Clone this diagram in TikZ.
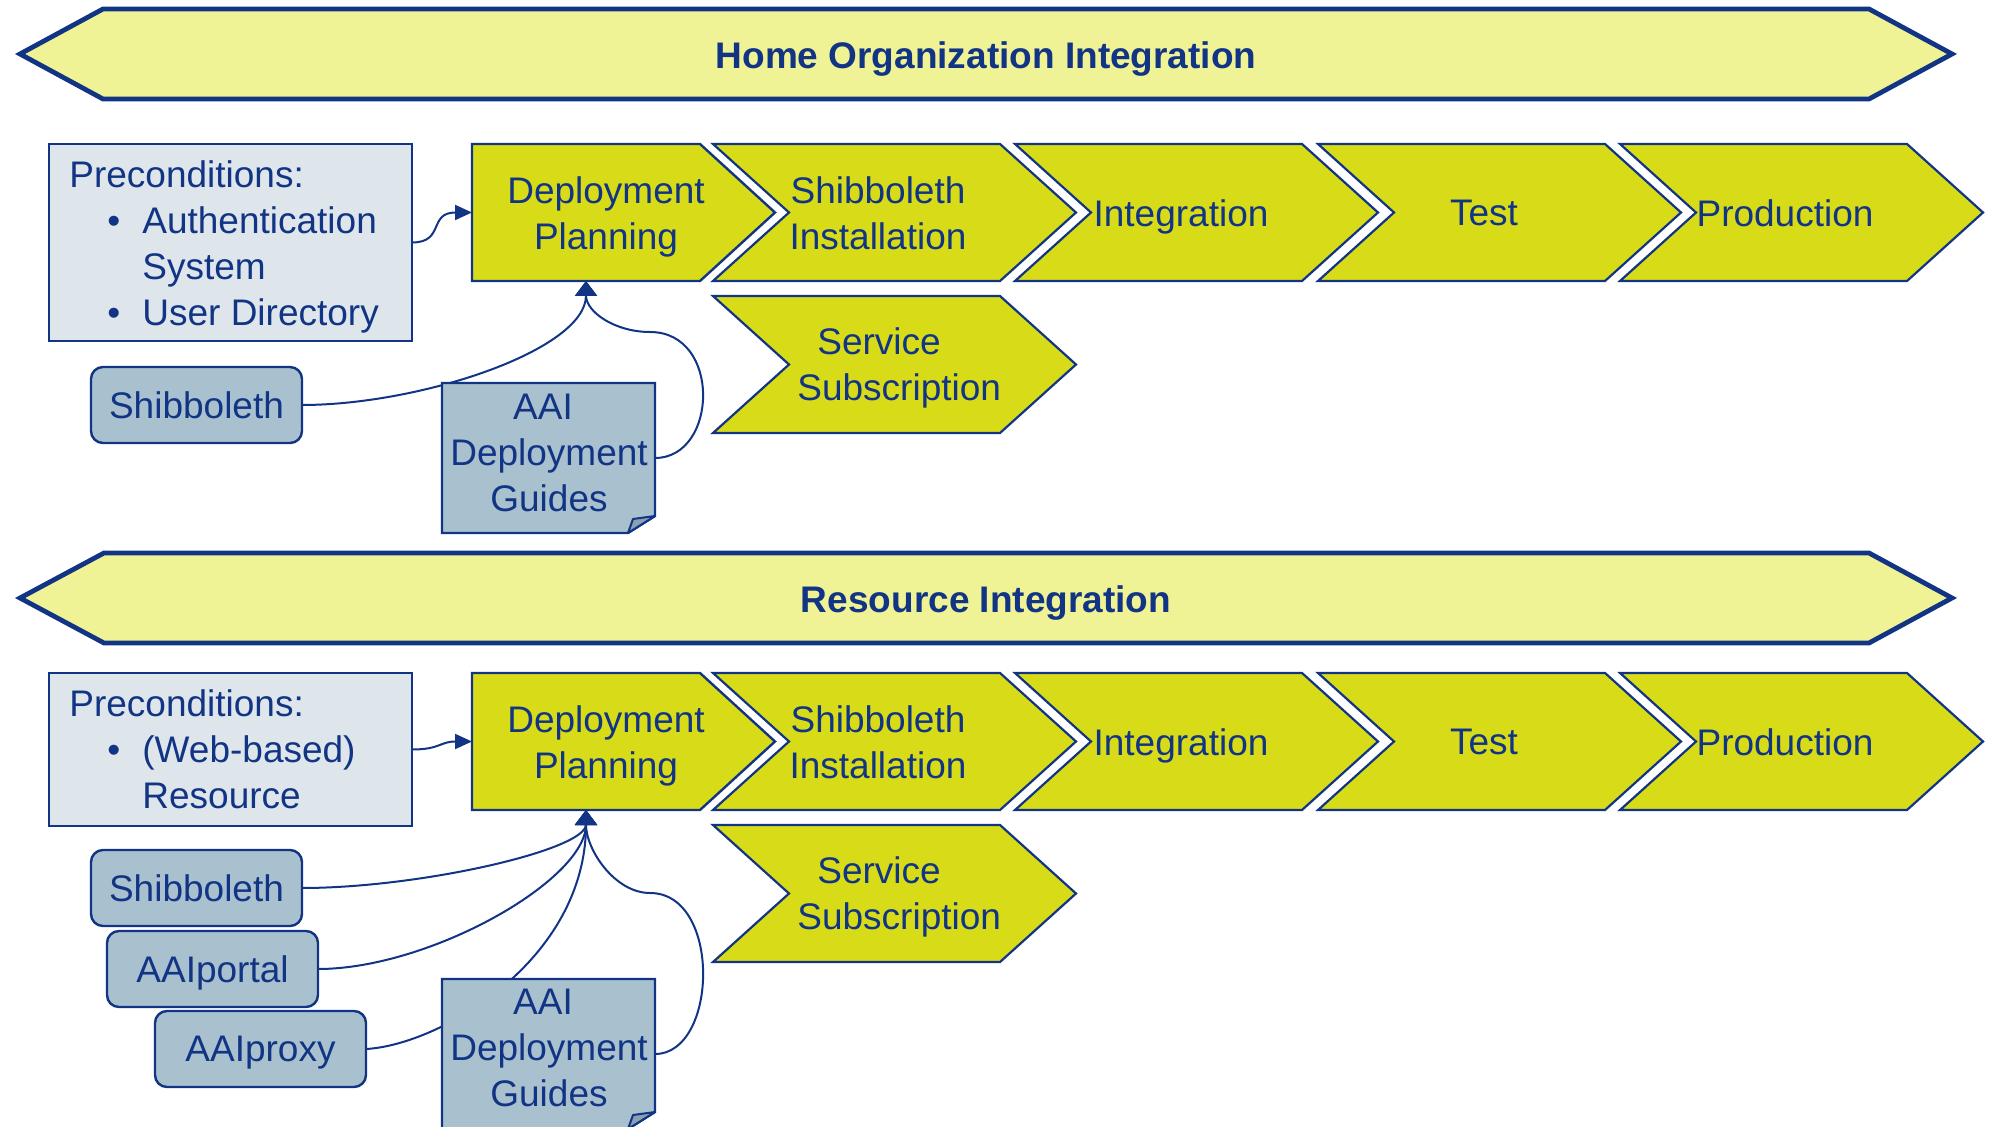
\documentclass[tikz,border=0pt]{standalone}
\usepackage{fontspec}
\setmainfont{Liberation Sans}
\usetikzlibrary{arrows.meta,calc}
\definecolor{navy}{RGB}{18,52,132}
\definecolor{bannerfill}{RGB}{240,242,150}
\definecolor{chevfill}{RGB}{216,220,24}
\definecolor{prefill}{RGB}{222,230,236}
\definecolor{boxfill}{RGB}{169,193,206}
\definecolor{foldfill}{RGB}{140,160,178}
\pgfdeclarelayer{bg}
\pgfsetlayers{bg,main}
\newcommand\mybul{\hspace*{19pt}\makebox[17.5pt][l]{•}}
\newcommand\myind{\hspace*{36.5pt}}
\newcommand\mydocshape[1]{%
  \path[fill=boxfill,draw=navy,line width=1.2pt,line join=miter]
    (#1.north west) -- (#1.north east) -- ($(#1.south east)+(0,-17)$)
    -- ($(#1.south east)+(-27,0)$) -- (#1.south west) -- cycle;
  \path[fill=foldfill,draw=navy,line width=1pt,line join=round]
    ($(#1.south east)+(-27,0)$) -- ($(#1.south east)+(-22,-14)$)
    -- ($(#1.south east)+(0,-17)$) -- cycle;}
\newcommand\mydpshape[1]{%
  \path[fill=chevfill,draw=navy,line width=1.2pt,line join=miter]
    (#1.north west) -- (#1.north east) -- ($(#1.east)+(75,0)$)
    -- (#1.south east) -- (#1.south west) -- cycle;}
\tikzset{
  chevst/.style={fill=chevfill,draw=navy,line width=1.1pt,line join=miter},
  chev/.pic={\path[chevst] (0,0) -- (287,0) -- (363,68.5) -- (287,137) -- (0,137) -- (76,68.5) -- cycle;}
}
\begin{document}
\begin{tikzpicture}[x=0.5pt,y=-0.5pt,
  txt/.style={text=navy,font=\fontsize{18.5pt}{23pt}\selectfont,align=center,inner sep=0pt,text depth=0pt},
  bold/.style={txt,font=\fontsize{18.5pt}{23pt}\selectfont\bfseries},
  frame/.style={draw=none,inner sep=0pt,outer sep=0pt},
  banner/.style={fill=bannerfill,draw=navy,line width=2.4pt,line join=miter},
  prebox/.style={rectangle,fill=prefill,draw=navy,line width=1.2pt,inner sep=0pt,outer sep=0pt,minimum width=181.5pt},
  rbox/.style={rectangle,rounded corners=6pt,fill=boxfill,draw=navy,line width=1.2pt,
    text=navy,font=\fontsize{18.5pt}{23pt}\selectfont,text depth=0pt,
    minimum width=105.5pt,minimum height=38pt,inner sep=0pt,outer sep=0pt},
  conn/.style={draw=navy,line width=1pt},
  arr/.style={conn,-{Triangle[length=7.5pt,width=11pt]}},
  arrp/.style={conn,-{Triangle[length=8.5pt,width=7.5pt]}}
]
\useasboundingbox (0,0) rectangle (1989,1127);

% ---------- banners ----------
\path[banner] (20,54) -- (103,9) -- (1869,9) -- (1952,54) -- (1869,99) -- (103,99) -- cycle;
\node[bold] (b1) at (986,55) {Home Organization Integration};
\path[banner] (20,598) -- (104,553) -- (1869,553) -- (1952,598) -- (1869,643) -- (104,643) -- cycle;
\node[bold] (b2) at (986,599) {Resource Integration};

% ---------- top section ----------
\node[prebox,minimum height=98.5pt] (pre1) at (230.5,242.5) {};
\node[txt,align=left,anchor=west] (pre1t) at (69,243.5)
  {Preconditions:\\ \mybul Authentication\\ \myind System\\ \mybul User Directory};

\node[frame,minimum width=114pt,minimum height=68.5pt] (dp1) at (586,212.5) {};
\mydpshape{dp1}
\node[txt] (dp1t) at (606,213) {Deployment\\Planning};

\pic at (713,144) {chev};
\node[txt] (si1) at (878,213) {Shibboleth\\Installation};
\pic at (1015,144) {chev};
\node[txt] (in1) at (1181,213) {Integration};
\pic at (1318,144) {chev};
\node[txt] (te1) at (1484,213) {Test};
\pic at (1620,144) {chev};
\node[txt] (pr1) at (1785,213) {Production};
\pic at (713,296) {chev};
\node[txt,align=left,anchor=west] (ss1) at (797,364.5) {\hspace*{10pt}Service\\Subscription};

\node[rbox] (sh1) at (196.5,405) {Shibboleth};
\node[frame,minimum width=106.5pt,minimum height=75pt] (doc1) at (548.5,458) {};

% ---------- bottom section ----------
\node[prebox,minimum height=76.5pt] (pre2) at (230.5,749.5) {};
\node[txt,align=left,anchor=west] (pre2t) at (69,749)
  {Preconditions:\\ \mybul (Web-based)\\ \myind Resource};

\node[frame,minimum width=114pt,minimum height=68.5pt] (dp2) at (586,741.5) {};
\mydpshape{dp2}
\node[txt] (dp2t) at (606,742) {Deployment\\Planning};

\pic at (713,673) {chev};
\node[txt] (si2) at (878,742) {Shibboleth\\Installation};
\pic at (1015,673) {chev};
\node[txt] (in2) at (1181,742) {Integration};
\pic at (1318,673) {chev};
\node[txt] (te2) at (1484,742) {Test};
\pic at (1620,673) {chev};
\node[txt] (pr2) at (1785,742) {Production};
\pic at (713,825) {chev};
\node[txt,align=left,anchor=west] (ss2) at (797,893.5) {\hspace*{10pt}Service\\Subscription};

\node[rbox] (sh2) at (196.5,888) {Shibboleth};
\node[rbox] (po2) at (212.5,969) {AAIportal};
\node[rbox] (px2) at (260.5,1049) {AAIproxy};
\node[frame,minimum width=106.5pt,minimum height=75pt] (doc2) at (548.5,1054) {};

% ---------- connectors (behind) ----------
\begin{pgfonlayer}{bg}
\draw[arrp] (pre1.east) .. controls (445,242.5) and (428,212.5) .. (dp1.west);
\draw[arr] (sh1.east) .. controls (420,405) and (586,350) .. (dp1.south);
\draw[arr] (doc1.east) .. controls (718,458) and (722,332) .. (650,332)
  .. controls (615,332) and (586,312) .. (dp1.south);

\draw[arrp] (pre2.east) .. controls (440,749.5) and (440,741.5) .. (dp2.west);
\draw[arr] (sh2.east) .. controls (420,888) and (586,850) .. (dp2.south);
\draw[arr] (po2.east) .. controls (430,969) and (586,880) .. (dp2.south);
\draw[arr] (px2.east) .. controls (440,1045) and (586,960) .. (dp2.south);
\draw[arr] (doc2.east) .. controls (718,1054) and (722,893) .. (650,893)
  .. controls (615,893) and (586,850) .. (dp2.south);
\end{pgfonlayer}

% ---------- documents (on top of connectors) ----------
\mydocshape{doc1}
\node[txt] (doc1t) at (549,452.5) {AAI\hspace*{6pt}\\Deployment\\Guides};
\mydocshape{doc2}
\node[txt] (doc2t) at (549,1048) {AAI\hspace*{6pt}\\Deployment\\Guides};
\end{tikzpicture}
\end{document}
